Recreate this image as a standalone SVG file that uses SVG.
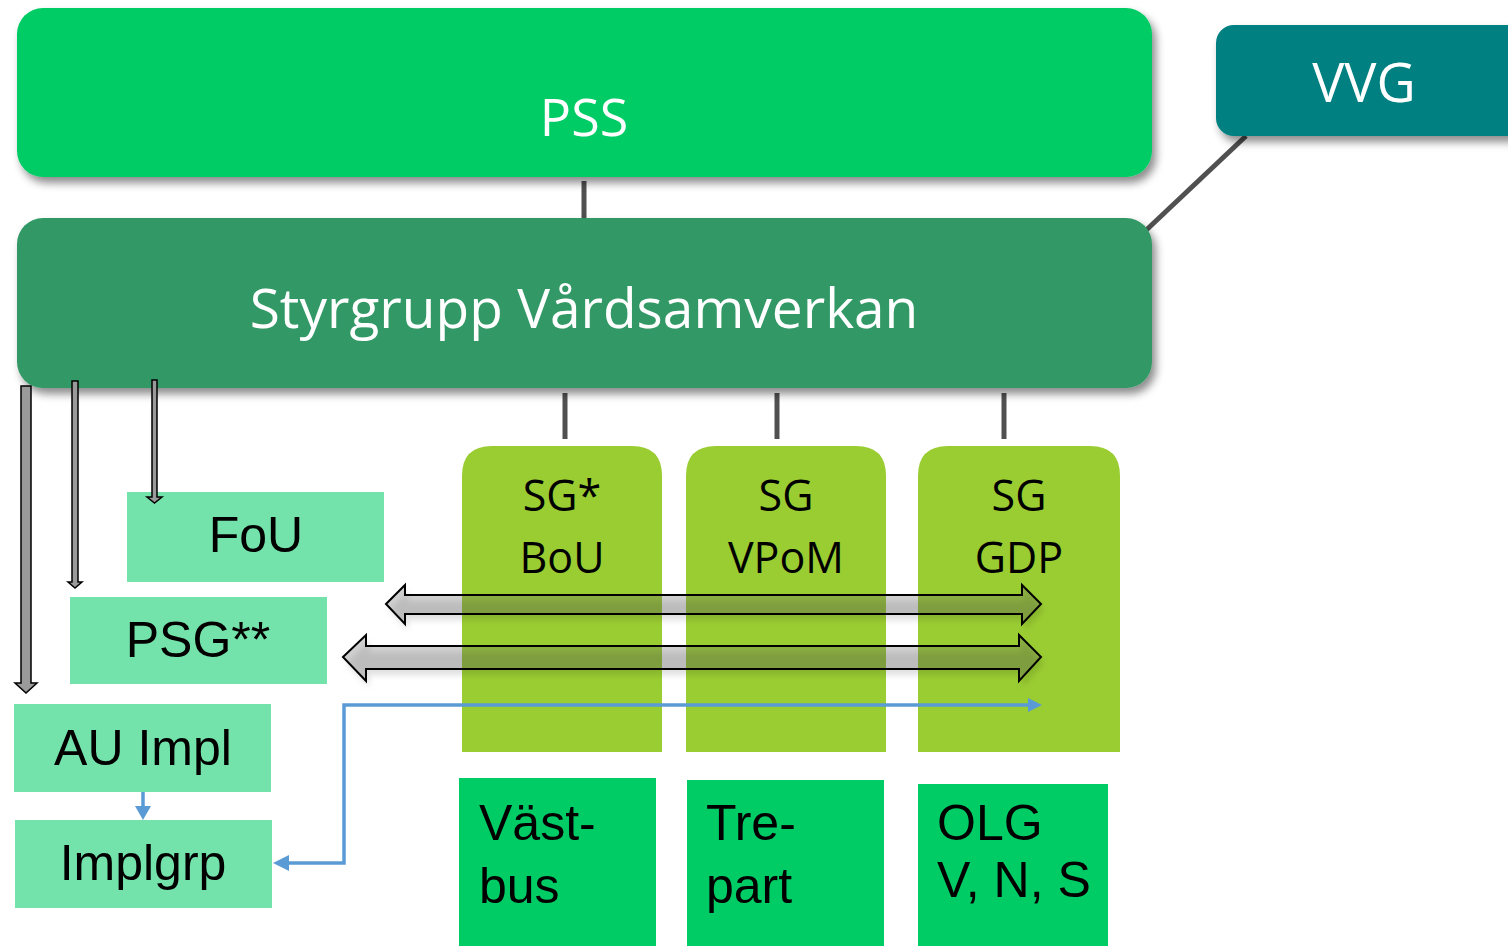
<svg xmlns="http://www.w3.org/2000/svg" width="1508" height="946" viewBox="0 0 1508 946">
<defs>
<style>
.lbl-w{font-family:"Open Sans","Noto Sans","DejaVu Sans",sans-serif;fill:#fff;text-anchor:middle}
.lbl-sg{font-family:"Open Sans","Noto Sans",sans-serif;fill:#000;text-anchor:middle;font-size:43px}
.lbl-a{font-family:"Liberation Sans",Arial,sans-serif;fill:#000;font-size:50px}
.mid{text-anchor:middle}
.conn{stroke:#505050;stroke-width:5;fill:none}
.down{fill:#9a9a9a;stroke:#000;stroke-width:1.5}
.dbl{fill:#6a6a6a;fill-opacity:0.3;stroke:#000;stroke-width:2}
.dsh{fill:#000;fill-opacity:0.12;filter:url(#blur)}
.blue{stroke:#5b9bd5;stroke-width:3.5;fill:none}
.bhead{fill:#5b9bd5}
.lt{fill:#74e3ab}
.bt{fill:#00cc66}
.sg{fill:#9acd32}
</style>
<filter id="sh" x="-5%" y="-20%" width="110%" height="150%">
<feDropShadow dx="4" dy="6" stdDeviation="4" flood-color="#000" flood-opacity="0.45"/>
</filter>
<filter id="blur" x="-5%" y="-50%" width="110%" height="200%">
<feGaussianBlur stdDeviation="3"/>
</filter>
</defs>

<g id="connectors">
<line class="conn" x1="584" y1="181" x2="584" y2="227"/>
<line class="conn" x1="1246" y1="136" x2="1141" y2="235"/>
<line class="conn" x1="565" y1="393" x2="565" y2="439"/>
<line class="conn" x1="777" y1="393" x2="777" y2="439"/>
<line class="conn" x1="1004" y1="393" x2="1004" y2="439"/>
</g>

<g id="node-pss">
<rect x="17" y="8" width="1135" height="169" rx="26" fill="#00cc66" filter="url(#sh)"/>
<text class="lbl-w" x="584" y="136" font-size="52">PSS</text>
</g>
<g id="node-vvg">
<rect x="1216" y="25" width="320" height="111" rx="18" fill="#008080" filter="url(#sh)"/>
<text class="lbl-w" x="1364" y="102" font-size="54">VVG</text>
</g>
<g id="node-styrgrupp">
<rect x="17" y="218" width="1135" height="170" rx="26" fill="#339966" filter="url(#sh)"/>
<text class="lbl-w" x="584" y="328" font-size="55">Styrgrupp Vårdsamverkan</text>
</g>

<g id="node-sg-bou">
<path class="sg" d="M462,752 V476 Q462,446 492,446 H632 Q662,446 662,476 V752 Z"/>
<text class="lbl-sg" x="562" y="511">SG*</text>
<text class="lbl-sg" x="562" y="573">BoU</text>
</g>
<g id="node-sg-vpom">
<path class="sg" d="M686,752 V476 Q686,446 716,446 H856 Q886,446 886,476 V752 Z"/>
<text class="lbl-sg" x="786" y="511">SG</text>
<text class="lbl-sg" x="786" y="573">VPoM</text>
</g>
<g id="node-sg-gdp">
<path class="sg" d="M918,752 V476 Q918,446 948,446 H1090 Q1120,446 1120,476 V752 Z"/>
<text class="lbl-sg" x="1019" y="511">SG</text>
<text class="lbl-sg" x="1019" y="573">GDP</text>
</g>

<g id="node-fou">
<rect class="lt" x="127" y="492" width="257" height="90"/>
<text class="lbl-a mid" x="256" y="552">FoU</text>
</g>
<g id="node-psg">
<rect class="lt" x="70" y="597" width="257" height="87"/>
<text class="lbl-a mid" x="198" y="657">PSG**</text>
</g>
<g id="node-au">
<rect class="lt" x="14" y="704" width="257" height="88"/>
<text class="lbl-a mid" x="143" y="765">AU Impl</text>
</g>
<g id="node-implgrp">
<rect class="lt" x="15" y="820" width="257" height="88"/>
<text class="lbl-a mid" x="143" y="880">Implgrp</text>
</g>

<g id="node-vastbus">
<rect class="bt" x="459" y="778" width="197" height="168"/>
<text class="lbl-a" x="479" y="840" font-size="52">Väst-</text>
<text class="lbl-a" x="479" y="903" font-size="52">bus</text>
</g>
<g id="node-trepart">
<rect class="bt" x="687" y="780" width="197" height="166"/>
<text class="lbl-a" x="706" y="840" font-size="52">Tre-</text>
<text class="lbl-a" x="706" y="903" font-size="52">part</text>
</g>
<g id="node-olg">
<rect class="bt" x="918" y="784" width="190" height="162"/>
<text class="lbl-a" x="937" y="840" font-size="48">OLG</text>
<text class="lbl-a" x="937" y="897" font-size="48">V, N, S</text>
</g>

<g id="arrows">
<path class="down" d="M21,386 H31 V683 H37 L26,693 L15,683 H21 Z"/>
<path class="down" d="M72,381 H78 V582 H82 L75,588 L68,582 H72 Z"/>
<path class="down" d="M152,380 H157 V497 H162 L154.5,503 L147,497 H152 Z"/>
<path class="dsh" transform="translate(3,6)" d="M386,604 L405,585 V595 H1022 V585 L1041,604 L1022,624 V614 H405 V624 Z"/>
<path class="dsh" transform="translate(3,6)" d="M343,657 L366,635 V646 H1019 V635 L1041,657 L1019,681 V669 H366 V681 Z"/>
<path class="dbl" d="M386,604 L405,585 V595 H1022 V585 L1041,604 L1022,624 V614 H405 V624 Z"/>
<path class="dbl" d="M343,657 L366,635 V646 H1019 V635 L1041,657 L1019,681 V669 H366 V681 Z"/>
<path class="blue" d="M1030,705 H344 V863 H284"/>
<path class="bhead" d="M1042,705 L1028,698 V712 Z"/>
<path class="bhead" d="M273,863 L289,855 V871 Z"/>
<path class="blue" d="M143,792 V810"/>
<path class="bhead" d="M143,820 L135,806 H151 Z"/>
</g>
</svg>
